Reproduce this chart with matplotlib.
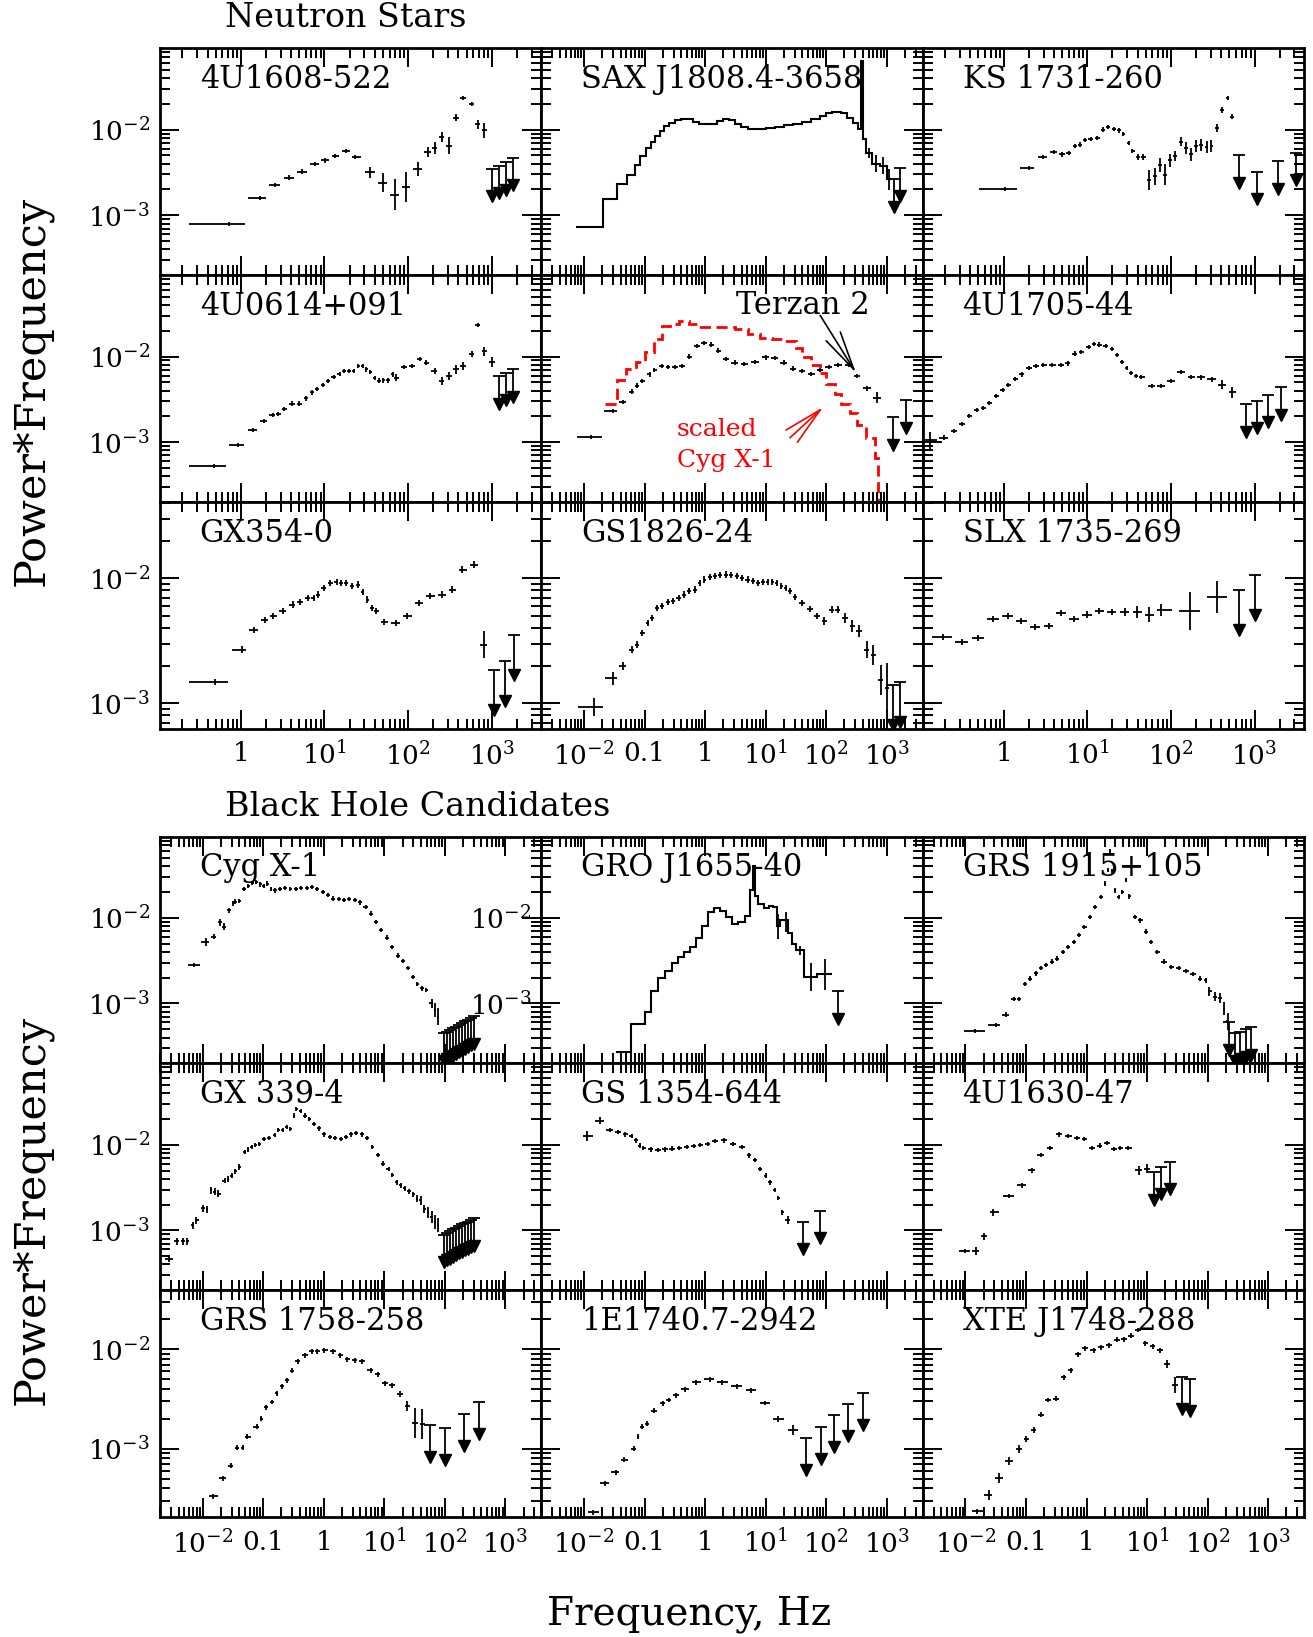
import numpy as np
import matplotlib
matplotlib.use("Agg")
import matplotlib.pyplot as plt
from matplotlib.ticker import FixedLocator, FixedFormatter, NullFormatter

plt.rcParams['font.family'] = ['DejaVu Serif']
plt.rcParams['mathtext.fontset'] = 'dejavuserif'

# ---------------- tick labels ----------------
XTICKS = [0.01, 0.1, 1, 10, 100, 1000]
XTICK_TEXT = ['$10^{-2}$', '0.1', '1', '$10^{1}$', '$10^{2}$', '$10^{3}$']
YTICKS = [1e-3, 1e-2]
YTICK_TEXT = ['$10^{-3}$', '$10^{-2}$']

# ---------------- data: (log10 freq [Hz], log10 power*freq, error [dex]) ----------------
u1608 = [(-0.14,-3.10,0.01),(0.23,-2.80,0.01),(0.41,-2.65,0.01),(0.58,-2.56,0.01),(0.735,-2.49,0.01),
         (0.885,-2.40,0.01),(1.01,-2.36,0.01),(1.13,-2.31,0.01),(1.26,-2.25,0.015),(1.37,-2.32,0.015),
         (1.55,-2.50,0.06),(1.70,-2.62,0.11),(1.84,-2.76,0.18),(1.97,-2.67,0.17),(2.12,-2.46,0.08),
         (2.24,-2.26,0.06),(2.32,-2.21,0.07),(2.40,-2.09,0.06),(2.49,-2.19,0.1),(2.57,-1.86,0.04),
         (2.66,-1.63,0.02),(2.76,-1.70,0.02),(2.83,-1.94,0.05),(2.91,-2.01,0.09)]
u1608_ul = [(3.0,-2.46),(3.09,-2.42),(3.17,-2.38),(3.26,-2.33)]

sax_edges = [-2.13,-1.68,-1.455,-1.29,-1.16,-1.07,-0.98,-0.89,-0.83,-0.75,-0.68,-0.6,-0.5,-0.4,-0.3,
             -0.2,-0.1,0.0,0.1,0.2,0.3,0.4,0.5,0.6,0.7,0.85,1.0,1.15,1.3,1.45,1.6,1.75,1.9,2.0,2.1,
             2.25,2.35,2.45,2.52,2.57,2.6,2.66,2.75,2.88,3.0,3.08]
sax_vals = [-3.14,-2.81,-2.64,-2.53,-2.41,-2.31,-2.21,-2.14,-2.08,-2.02,-1.96,-1.92,-1.89,-1.88,-1.88,
            -1.91,-1.93,-1.94,-1.93,-1.90,-1.88,-1.89,-1.93,-1.97,-1.99,-1.99,-1.98,-1.97,-1.95,-1.93,
            -1.91,-1.88,-1.84,-1.81,-1.79,-1.80,-1.86,-1.92,-1.99,-1.20,-2.11,-2.27,-2.40,-2.42,-2.58]
sax_err = [(2.705,-2.27,0.06),(2.815,-2.40,0.1),(2.94,-2.42,0.1),(3.04,-2.58,0.12)]
sax_ul = [(3.12,-2.58),(3.22,-2.45)]

ks1731 = [(0.013,-2.69,0.01),(0.30,-2.45,0.01),(0.475,-2.32,0.01),(0.605,-2.26,0.01),(0.70,-2.29,0.01),
          (0.78,-2.27,0.01),(0.85,-2.19,0.01),(0.91,-2.175,0.01),(0.97,-2.12,0.01),(1.04,-2.11,0.01),
          (1.12,-2.10,0.01),(1.19,-2.00,0.01),(1.25,-1.97,0.01),(1.32,-1.99,0.01),(1.38,-2.01,0.01),
          (1.43,-2.05,0.015),(1.50,-2.16,0.02),(1.54,-2.25,0.02),(1.61,-2.32,0.03),(1.67,-2.32,0.03),
          (1.74,-2.59,0.12),(1.805,-2.545,0.1),(1.87,-2.41,0.08),(1.93,-2.525,0.12),(1.99,-2.36,0.08),
          (2.05,-2.31,0.06),(2.12,-2.14,0.05),(2.18,-2.21,0.07),(2.24,-2.29,0.08),(2.30,-2.19,0.07),
          (2.36,-2.175,0.07),(2.43,-2.20,0.07),(2.48,-2.19,0.07),(2.55,-1.98,0.05),(2.61,-1.77,0.03),
          (2.68,-1.63,0.02),(2.73,-1.85,0.03)]
ks1731_ul = [(2.81,-2.30),(3.03,-2.49),(3.275,-2.37),(3.5,-2.27)]

u0614 = [(-0.325,-3.28,0.01),(-0.03,-3.035,0.01),(0.15,-2.86,0.01),(0.28,-2.75,0.01),(0.38,-2.68,0.01),
         (0.45,-2.67,0.01),(0.52,-2.61,0.015),(0.61,-2.55,0.01),(0.70,-2.55,0.01),(0.78,-2.49,0.01),
         (0.85,-2.42,0.01),(0.915,-2.38,0.01),(0.98,-2.33,0.01),(1.04,-2.285,0.01),(1.11,-2.24,0.01),
         (1.18,-2.20,0.01),(1.235,-2.17,0.01),(1.29,-2.17,0.01),(1.35,-2.17,0.01),(1.405,-2.11,0.01),
         (1.46,-2.11,0.01),(1.50,-2.15,0.01),(1.55,-2.18,0.015),(1.60,-2.25,0.02),(1.65,-2.285,0.03),
         (1.705,-2.28,0.03),(1.76,-2.28,0.03),(1.815,-2.21,0.03),(1.85,-2.25,0.04),(1.95,-2.12,0.02),
         (2.05,-2.11,0.02),(2.145,-2.03,0.02),(2.21,-2.07,0.02),(2.32,-2.17,0.04),(2.40,-2.285,0.05),
         (2.49,-2.23,0.05),(2.57,-2.15,0.05),(2.66,-2.11,0.05),(2.76,-1.97,0.04),(2.83,-1.63,0.015),
         (2.91,-1.94,0.05),(3.0,-2.06,0.06)]
u0614_ul = [(3.085,-2.23),(3.17,-2.19),(3.26,-2.15)]

terzan2 = [(-1.89,-2.94,0.01),(-1.53,-2.64,0.02),(-1.35,-2.53,0.015),(-1.215,-2.41,0.015),(-1.125,-2.34,0.01),
           (-1.035,-2.29,0.01),(-0.915,-2.21,0.01),(-0.84,-2.16,0.01),(-0.71,-2.11,0.01),(-0.62,-2.12,0.01),
           (-0.50,-2.12,0.01),(-0.38,-2.11,0.01),(-0.26,-2.00,0.01),(-0.14,-1.875,0.01),(-0.015,-1.84,0.01),
           (0.10,-1.86,0.01),(0.22,-1.93,0.01),(0.34,-2.03,0.01),(0.49,-2.07,0.01),(0.64,-2.09,0.01),
           (0.82,-2.06,0.01),(1.0,-2.01,0.01),(1.15,-2.02,0.01),(1.30,-2.07,0.01),(1.45,-2.14,0.01),
           (1.60,-2.17,0.01),(1.75,-2.20,0.01),(1.90,-2.16,0.01),(2.04,-2.12,0.01),(2.19,-2.10,0.01),
           (2.37,-2.10,0.015),(2.50,-2.23,0.02),(2.67,-2.37,0.03),(2.84,-2.48,0.06)]
terzan2_ul = [(3.10,-2.71),(3.31,-2.51)]
cyg_scaled_edges = [-1.66,-1.45,-1.30,-1.15,-1.0,-0.85,-0.72,-0.58,-0.43,-0.26,-0.1,0.1,0.3,0.5,0.7,0.9,
                    1.1,1.3,1.5,1.6,1.75,1.9,2.0,2.15,2.25,2.4,2.5,2.65,2.8,2.86,2.88]
cyg_scaled_vals = [-2.55,-2.27,-2.15,-2.06,-1.95,-1.80,-1.64,-1.62,-1.58,-1.62,-1.66,-1.66,-1.66,-1.68,
                   -1.74,-1.78,-1.80,-1.82,-1.90,-2.01,-2.10,-2.19,-2.32,-2.44,-2.55,-2.66,-2.80,-2.95,
                   -3.18,-3.9]

u1705 = [(-0.885,-2.98,0.1),(-0.71,-2.95,0.03),(-0.59,-2.87,0.02),(-0.50,-2.79,0.02),(-0.41,-2.695,0.015),
         (-0.32,-2.625,0.015),(-0.245,-2.60,0.01),(-0.17,-2.54,0.01),(-0.09,-2.46,0.01),(-0.01,-2.395,0.01),
         (0.055,-2.335,0.01),(0.14,-2.265,0.01),(0.215,-2.21,0.01),(0.30,-2.13,0.01),(0.39,-2.11,0.01),
         (0.475,-2.10,0.01),(0.58,-2.10,0.01),(0.69,-2.10,0.01),(0.765,-2.08,0.01),(0.85,-1.965,0.01),
         (0.93,-1.95,0.01),(1.015,-1.885,0.01),(1.08,-1.85,0.01),(1.145,-1.86,0.01),(1.22,-1.875,0.01),
         (1.295,-1.915,0.01),(1.36,-1.98,0.01),(1.415,-2.06,0.01),(1.47,-2.13,0.01),(1.525,-2.19,0.01),
         (1.585,-2.225,0.01),(1.64,-2.24,0.01),(1.77,-2.345,0.01),(1.88,-2.345,0.01),(2.0,-2.29,0.015),
         (2.12,-2.18,0.02),(2.245,-2.24,0.02),(2.355,-2.245,0.02),(2.485,-2.265,0.03),(2.615,-2.33,0.05),
         (2.735,-2.42,0.06)]
u1705_ul = [(2.9,-2.56),(3.03,-2.52),(3.16,-2.45),(3.31,-2.36)]

gx354 = [(-0.31,-2.83,0.01),(0.01,-2.57,0.01),(0.16,-2.415,0.01),(0.29,-2.335,0.01),(0.39,-2.30,0.01),
         (0.50,-2.26,0.01),(0.62,-2.21,0.01),(0.705,-2.19,0.01),(0.80,-2.16,0.01),(0.87,-2.155,0.01),
         (0.92,-2.13,0.01),(0.99,-2.08,0.01),(1.07,-2.04,0.01),(1.145,-2.03,0.01),(1.195,-2.035,0.01),
         (1.26,-2.04,0.01),(1.325,-2.06,0.01),(1.40,-2.05,0.01),(1.46,-2.11,0.015),(1.51,-2.17,0.015),
         (1.57,-2.235,0.02),(1.615,-2.26,0.02),(1.71,-2.35,0.01),(1.85,-2.36,0.01),(1.99,-2.30,0.015),
         (2.13,-2.20,0.02),(2.265,-2.14,0.02),(2.41,-2.13,0.02),(2.53,-2.09,0.025),(2.65,-1.93,0.02),
         (2.79,-1.89,0.02),(2.905,-2.53,0.11)]
gx354_ul = [(3.03,-2.73),(3.16,-2.665),(3.27,-2.455)]

gs1826 = [(-1.84,-3.03,0.07),(-1.53,-2.80,0.05),(-1.35,-2.70,0.03),(-1.215,-2.57,0.02),(-1.125,-2.53,0.02),
          (-1.035,-2.44,0.015),(-0.945,-2.36,0.01),(-0.885,-2.32,0.01),(-0.80,-2.24,0.01),(-0.71,-2.22,0.01),
          (-0.62,-2.19,0.01),(-0.53,-2.18,0.01),(-0.44,-2.155,0.01),(-0.35,-2.13,0.01),(-0.26,-2.10,0.01),
          (-0.17,-2.09,0.01),(-0.09,-2.04,0.01),(-0.015,-2.01,0.01),(0.08,-1.99,0.01),(0.16,-1.98,0.01),
          (0.25,-1.975,0.01),(0.34,-1.97,0.01),(0.43,-1.975,0.01),(0.52,-1.98,0.01),(0.61,-1.995,0.01),
          (0.70,-2.01,0.01),(0.79,-2.02,0.01),(0.88,-2.035,0.01),(0.96,-2.03,0.01),(1.03,-2.03,0.01),
          (1.11,-2.03,0.01),(1.18,-2.035,0.01),(1.26,-2.06,0.01),(1.33,-2.075,0.01),(1.40,-2.10,0.01),
          (1.48,-2.15,0.01),(1.60,-2.195,0.015),(1.73,-2.245,0.015),(1.85,-2.30,0.02),(1.97,-2.34,0.03),
          (2.09,-2.25,0.03),(2.19,-2.25,0.03),(2.31,-2.32,0.04),(2.43,-2.38,0.05),(2.54,-2.42,0.05),
          (2.67,-2.57,0.07),(2.78,-2.61,0.08),(2.90,-2.81,0.12),(3.0,-2.88,0.2)]
gs1826_ul = [(3.10,-2.85),(3.22,-2.83)]

slx1735 = [(-0.725,-2.47,0.015),(-0.50,-2.51,0.01),(-0.31,-2.48,0.01),(-0.125,-2.325,0.01),(0.05,-2.30,0.01),
           (0.21,-2.34,0.01),(0.38,-2.39,0.01),(0.54,-2.38,0.01),(0.685,-2.28,0.015),(0.845,-2.325,0.015),
           (1.0,-2.29,0.02),(1.14,-2.26,0.02),(1.29,-2.27,0.025),(1.445,-2.27,0.03),(1.60,-2.27,0.045),
           (1.74,-2.29,0.06),(1.88,-2.255,0.05),(2.225,-2.26,0.15),(2.55,-2.15,0.13)]
slx1735_ul = [(2.81,-2.09),(3.0,-1.97)]

cygx1 = [(-2.15,-2.55,0.01),(-1.95,-2.28,0.05),(-1.81,-2.22,0.03),(-1.71,-2.05,0.04),(-1.65,-2.105,0.04),
         (-1.56,-1.91,0.03),(-1.50,-1.83,0.03),(-1.46,-1.81,0.03),(-1.40,-1.805,0.02),(-1.31,-1.66,0.02),
         (-1.25,-1.63,0.015),(-1.18,-1.59,0.015),(-1.12,-1.58,0.015),(-1.05,-1.61,0.01),(-0.99,-1.63,0.01),
         (-0.93,-1.60,0.01),(-0.87,-1.665,0.01),(-0.81,-1.68,0.01),(-0.72,-1.66,0.01),(-0.635,-1.65,0.01),
         (-0.55,-1.665,0.01),(-0.46,-1.66,0.01),(-0.37,-1.65,0.01),(-0.28,-1.65,0.01),(-0.19,-1.64,0.01),
         (-0.105,-1.66,0.01),(-0.02,-1.70,0.01),(0.07,-1.735,0.01),(0.16,-1.775,0.01),(0.25,-1.78,0.01),
         (0.335,-1.795,0.01),(0.42,-1.78,0.01),(0.51,-1.795,0.01),(0.60,-1.82,0.01),(0.69,-1.87,0.01),
         (0.78,-1.95,0.01),(0.865,-2.05,0.01),(0.95,-2.14,0.01),(1.04,-2.23,0.01),(1.13,-2.34,0.01),
         (1.22,-2.44,0.01),(1.31,-2.50,0.01),(1.39,-2.59,0.01),(1.48,-2.69,0.015),(1.54,-2.77,0.02),
         (1.63,-2.825,0.02),(1.69,-2.84,0.02),(1.78,-3.0,0.05),(1.835,-3.08,0.08),(1.89,-3.155,0.1)]
cygx1_ul = [(1.98,-3.35),(2.03,-3.33),(2.08,-3.31),(2.13,-3.29),(2.18,-3.27),(2.23,-3.25),(2.28,-3.23),
            (2.33,-3.21),(2.38,-3.19),(2.43,-3.17),(2.48,-3.15)]

gro1655_edges = [-1.47,-1.23,-1.0,-0.9,-0.78,-0.66,-0.55,-0.45,-0.35,-0.25,-0.15,-0.05,0.05,0.15,0.25,0.35,
                 0.45,0.55,0.65,0.74,0.79,0.83,0.88,0.97,1.05,1.12,1.18,1.24,1.3,1.36,1.43,1.5,1.63,1.85,2.1]
gro1655_vals = [-3.57,-3.24,-3.10,-2.86,-2.70,-2.62,-2.53,-2.46,-2.40,-2.34,-2.24,-2.10,-1.93,-1.89,-1.92,
                -1.99,-2.07,-2.05,-1.98,-1.68,-1.39,-1.74,-1.84,-1.89,-1.86,-1.87,-2.10,-2.03,-2.02,-2.18,
                -2.30,-2.38,-2.69,-2.66]
gro1655_err = [(1.21,-2.10,0.15),(1.33,-2.05,0.12),(1.565,-2.38,0.05),(1.74,-2.69,0.16),(1.975,-2.66,0.18)]
gro1655_ul = [(2.19,-2.86)]

grs1915 = [(-1.85,-3.32,0.02),(-1.50,-3.25,0.02),(-1.335,-3.13,0.02),(-1.20,-2.95,0.02),(-1.11,-2.95,0.02),
           (-1.02,-2.77,0.015),(-0.93,-2.71,0.015),(-0.84,-2.65,0.015),(-0.755,-2.59,0.015),(-0.665,-2.55,0.015),
           (-0.575,-2.51,0.015),(-0.485,-2.475,0.015),(-0.395,-2.40,0.015),(-0.305,-2.34,0.015),(-0.215,-2.28,0.015),
           (-0.125,-2.20,0.01),(-0.035,-2.105,0.01),(0.055,-1.99,0.01),(0.145,-1.87,0.01),(0.235,-1.755,0.01),
           (0.31,-1.60,0.01),(0.355,-1.44,0.01),(0.385,-1.22,0.01),(0.42,-1.45,0.01),(0.47,-1.68,0.01),
           (0.53,-1.755,0.01),(0.59,-1.70,0.01),(0.65,-1.56,0.01),(0.70,-1.75,0.01),(0.80,-1.99,0.01),
           (0.89,-2.03,0.01),(0.98,-2.16,0.01),(1.07,-2.28,0.015),(1.16,-2.40,0.015),(1.28,-2.51,0.015),
           (1.40,-2.57,0.015),(1.52,-2.59,0.015),(1.64,-2.62,0.015),(1.76,-2.66,0.02),(1.88,-2.71,0.02),
           (1.97,-2.73,0.03),(2.03,-2.86,0.05),(2.12,-2.92,0.05),(2.21,-2.94,0.06),(2.27,-3.06,0.08),
           (2.33,-3.21,0.1)]
grs1915_ul = [(2.36,-3.22),(2.45,-3.35),(2.54,-3.33),(2.63,-3.30),(2.71,-3.28)]

gx339 = [(-2.55,-3.33,0.04),(-2.43,-3.13,0.04),(-2.32,-3.13,0.04),(-2.26,-3.13,0.04),(-2.165,-2.94,0.04),
         (-2.11,-2.88,0.04),(-1.99,-2.74,0.04),(-1.93,-2.755,0.04),(-1.86,-2.53,0.04),(-1.80,-2.55,0.04),
         (-1.74,-2.57,0.04),(-1.635,-2.42,0.03),(-1.58,-2.40,0.03),(-1.52,-2.36,0.03),(-1.46,-2.31,0.03),
         (-1.40,-2.26,0.03),(-1.30,-2.085,0.025),(-1.25,-2.055,0.025),(-1.19,-2.03,0.02),(-1.135,-2.0,0.02),
         (-1.065,-1.99,0.02),(-0.99,-1.93,0.02),(-0.90,-1.92,0.02),(-0.81,-1.89,0.02),(-0.75,-1.83,0.015),
         (-0.68,-1.83,0.015),(-0.61,-1.79,0.015),(-0.55,-1.82,0.015),(-0.49,-1.66,0.01),(-0.45,-1.58,0.01),
         (-0.38,-1.61,0.01),(-0.31,-1.66,0.01),(-0.24,-1.70,0.01),(-0.165,-1.755,0.01),(-0.075,-1.81,0.01),
         (0.01,-1.88,0.01),(0.10,-1.91,0.01),(0.19,-1.92,0.01),(0.28,-1.93,0.01),(0.365,-1.91,0.01),
         (0.45,-1.88,0.01),(0.54,-1.86,0.01),(0.63,-1.88,0.01),(0.72,-1.92,0.01),(0.805,-2.03,0.01),
         (0.89,-2.12,0.01),(0.98,-2.22,0.01),(1.07,-2.28,0.01),(1.13,-2.35,0.01),(1.205,-2.44,0.015),
         (1.275,-2.475,0.015),(1.335,-2.51,0.02),(1.405,-2.545,0.02),(1.48,-2.58,0.03),(1.54,-2.63,0.04),
         (1.60,-2.65,0.05),(1.66,-2.75,0.05),(1.72,-2.79,0.06),(1.78,-2.845,0.07),(1.835,-2.90,0.08),
         (1.89,-2.94,0.08)]
gx339_ul = [(1.98,-3.05),(2.03,-3.03),(2.08,-3.01),(2.13,-2.99),(2.18,-2.97),(2.23,-2.95),(2.28,-2.93),
            (2.33,-2.91),(2.38,-2.90),(2.43,-2.88),(2.48,-2.86)]

gs1354 = [(-1.95,-1.90,0.06),(-1.74,-1.72,0.04),(-1.575,-1.83,0.02),(-1.44,-1.85,0.015),(-1.32,-1.88,0.015),
          (-1.215,-1.90,0.01),(-1.14,-1.95,0.01),(-1.08,-2.01,0.01),(-1.02,-2.04,0.01),(-0.90,-2.055,0.01),
          (-0.78,-2.065,0.01),(-0.665,-2.055,0.01),(-0.545,-2.045,0.01),(-0.425,-2.04,0.01),(-0.305,-2.03,0.01),
          (-0.185,-2.015,0.01),(-0.08,-2.0,0.01),(0.04,-1.99,0.01),(0.16,-1.96,0.01),(0.31,-1.95,0.01),
          (0.46,-1.99,0.01),(0.61,-2.03,0.01),(0.73,-2.125,0.01),(0.82,-2.18,0.01),(0.91,-2.28,0.01),
          (1.0,-2.36,0.01),(1.07,-2.44,0.01),(1.15,-2.53,0.01),(1.21,-2.62,0.015),(1.27,-2.79,0.03),
          (1.36,-2.88,0.05)]
gs1354_ul = [(1.615,-2.90),(1.90,-2.77)]

u1630 = [(-2.01,-3.24,0.02),(-1.83,-3.24,0.05),(-1.70,-3.07,0.04),(-1.545,-2.79,0.04),(-1.28,-2.60,0.02),
         (-1.07,-2.475,0.03),(-0.905,-2.30,0.02),(-0.755,-2.12,0.02),(-0.605,-2.04,0.015),(-0.455,-1.88,0.01),
         (-0.305,-1.90,0.01),(-0.155,-1.92,0.01),(-0.035,-1.93,0.01),(0.085,-2.04,0.01),(0.215,-2.01,0.01),
         (0.335,-1.98,0.015),(0.455,-2.05,0.015),(0.56,-2.04,0.02),(0.68,-2.04,0.02),(0.86,-2.30,0.05),
         (0.995,-2.28,0.05)]
u1630_ul = [(1.11,-2.32),(1.23,-2.26),(1.37,-2.20)]

grs1758 = [(-1.83,-3.48,0.02),(-1.66,-3.30,0.02),(-1.53,-3.17,0.02),(-1.43,-2.99,0.015),(-1.34,-2.99,0.015),
           (-1.265,-2.88,0.015),(-1.105,-2.78,0.01),(-1.03,-2.70,0.01),(-0.95,-2.585,0.01),(-0.85,-2.53,0.01),
           (-0.78,-2.44,0.01),(-0.695,-2.37,0.01),(-0.605,-2.31,0.01),(-0.53,-2.215,0.01),(-0.43,-2.12,0.01),
           (-0.31,-2.06,0.01),(-0.195,-2.02,0.01),(-0.105,-2.02,0.01),(0.01,-2.01,0.01),(0.15,-2.02,0.01),
           (0.275,-2.06,0.01),(0.39,-2.10,0.01),(0.51,-2.11,0.01),(0.63,-2.12,0.01),(0.775,-2.21,0.01),
           (0.89,-2.25,0.015),(1.01,-2.34,0.015),(1.13,-2.36,0.02),(1.265,-2.45,0.03),(1.38,-2.57,0.05),
           (1.51,-2.74,0.15),(1.63,-2.755,0.15)]
grs1758_ul = [(1.75,-2.76),(2.01,-2.79),(2.31,-2.65),(2.57,-2.53)]

e1740 = [(-1.86,-3.64,0.02),(-1.66,-3.35,0.02),(-1.48,-3.24,0.02),(-1.335,-3.11,0.02),(-1.17,-3.0,0.015),
         (-1.11,-2.88,0.015),(-1.05,-2.78,0.015),(-0.965,-2.75,0.01),(-0.845,-2.62,0.01),(-0.695,-2.545,0.01),
         (-0.605,-2.51,0.01),(-0.485,-2.46,0.01),(-0.335,-2.40,0.01),(-0.155,-2.33,0.01),(0.075,-2.30,0.01),
         (0.28,-2.33,0.01),(0.52,-2.37,0.01),(0.76,-2.41,0.01),(0.99,-2.54,0.015),(1.21,-2.70,0.03),
         (1.45,-2.815,0.05)]
e1740_ul = [(1.67,-2.89),(1.91,-2.78),(2.13,-2.66),(2.36,-2.55),(2.60,-2.44)]

xte1748 = [(-1.81,-3.63,0.02),(-1.62,-3.47,0.05),(-1.45,-3.30,0.05),(-1.28,-3.12,0.04),(-1.11,-3.0,0.04),
           (-0.995,-2.90,0.03),(-0.875,-2.81,0.03),(-0.755,-2.66,0.02),(-0.635,-2.51,0.02),(-0.50,-2.495,0.02),
           (-0.38,-2.28,0.015),(-0.26,-2.21,0.015),(-0.145,-2.05,0.015),(-0.025,-1.99,0.01),(0.115,-2.01,0.01),
           (0.235,-1.98,0.01),(0.37,-1.96,0.01),(0.50,-1.905,0.01),(0.62,-1.90,0.01),(0.73,-1.865,0.01),
           (0.85,-1.805,0.01),(0.97,-1.94,0.01),(1.09,-1.97,0.015),(1.21,-2.01,0.02),(1.33,-2.15,0.04),
           (1.46,-2.36,0.08)]
xte1748_ul = [(1.57,-2.28),(1.70,-2.30)]

# ---------------- layout / style ----------------
LW = 1.3
MIN_ERR = 0.025      # smallest drawn half-height of a cross, dex
BAR_FRAC = 0.75      # drawn fraction of a bin's half-width
LEFT, COLW, ROWH = 0.1216, 0.2905, 0.1386
TOP_A, TOP_B = 0.9705, 0.489
NARROW, WIDE = (-0.97, 3.59), (-2.71, 3.59)
YSTD, YTOP3, YBOT3 = (-3.70, -1.05), (-3.205, -1.39), (-3.69, -1.405)
MINOR = [k * 10.0 ** n for n in range(-4, 5) for k in range(2, 10)]

fig = plt.figure(figsize=(13.13, 16.37), dpi=100)


def make_ax(top, row, col, xr, yr, xlab, ylab):
    ax = fig.add_axes([LEFT + col * COLW, top - (row + 1) * ROWH, COLW, ROWH])
    ax.set_xscale('log')
    ax.set_yscale('log')
    ax.set_xlim(10 ** xr[0], 10 ** xr[1])
    ax.set_ylim(10 ** yr[0], 10 ** yr[1])
    ax.xaxis.set_major_locator(FixedLocator(XTICKS))
    ax.xaxis.set_minor_locator(FixedLocator(MINOR))
    ax.yaxis.set_major_locator(FixedLocator(YTICKS))
    ax.yaxis.set_minor_locator(FixedLocator(MINOR))
    ax.xaxis.set_major_formatter(FixedFormatter(XTICK_TEXT) if xlab else NullFormatter())
    ax.yaxis.set_major_formatter(FixedFormatter(YTICK_TEXT) if ylab else NullFormatter())
    ax.xaxis.set_minor_formatter(NullFormatter())
    ax.yaxis.set_minor_formatter(NullFormatter())
    ax.tick_params(which='both', direction='in', top=True, right=True, width=1.4,
                   labelsize=19, labelbottom=xlab, labelleft=ylab)
    ax.tick_params(which='major', length=14)
    ax.tick_params(which='minor', length=7)
    ax.tick_params(axis='x', pad=9)
    ax.tick_params(axis='y', pad=7)
    for s in ax.spines.values():
        s.set_linewidth(2.0)
    return ax


def draw_points(ax, pts, first_lo):
    lf = np.array([p[0] for p in pts], float)
    lp = np.array([p[1] for p in pts], float)
    er = np.maximum(np.array([p[2] for p in pts], float), MIN_ERR)
    mid = 0.5 * (lf[1:] + lf[:-1])
    lo = np.concatenate([[first_lo], mid])
    hi = np.concatenate([mid, [lf[-1] + (lf[-1] - mid[-1])]])
    lo[1:] = lf[1:] - BAR_FRAC * (lf[1:] - lo[1:])
    hi[1:] = lf[1:] + BAR_FRAC * (hi[1:] - lf[1:])
    ax.hlines(10 ** lp, 10 ** lo, 10 ** hi, colors='k', lw=LW)
    ax.vlines(10 ** lf, 10 ** (lp - er), 10 ** (lp + er), colors='k', lw=LW)


def draw_errs(ax, pts):
    lf = np.array([p[0] for p in pts], float)
    lp = np.array([p[1] for p in pts], float)
    er = np.array([p[2] for p in pts], float)
    ax.vlines(10 ** lf, 10 ** (lp - er), 10 ** (lp + er), colors='k', lw=LW)


def draw_uls(ax, uls, length=0.35):
    lf = np.array([u[0] for u in uls], float)
    lp = np.array([u[1] for u in uls], float)
    x = 10 ** lf
    ax.vlines(x, 10 ** (lp - length), 10 ** lp, colors='k', lw=LW)
    ax.plot(x, 10 ** lp, ls='none', marker='_', ms=9, mew=LW, color='k')
    ax.plot(x, 10 ** (lp - length + 0.03), ls='none', marker='v', ms=8, color='k')


def draw_stairs(ax, edges, vals, **kw):
    n = min(len(vals), len(edges) - 1)
    ax.stairs(10 ** np.array(vals[:n]), 10 ** np.array(edges[:n + 1]), baseline=None, **kw)


def label(ax, text):
    ax.text(0.105, 0.825, text, transform=ax.transAxes, fontsize=22, ha='left', va='baseline')


# ---- Neutron stars ----
ax = make_ax(TOP_A, 0, 0, NARROW, YSTD, False, True)
draw_points(ax, u1608, -0.62); draw_uls(ax, u1608_ul); label(ax, '4U1608-522')

ax = make_ax(TOP_A, 0, 1, WIDE, YSTD, False, False)
draw_stairs(ax, sax_edges, sax_vals, color='k', lw=1.5)
draw_errs(ax, sax_err); draw_uls(ax, sax_ul); label(ax, 'SAX J1808.4-3658')

ax = make_ax(TOP_A, 0, 2, NARROW, YSTD, False, False)
draw_points(ax, ks1731, -0.29); draw_uls(ax, ks1731_ul); label(ax, 'KS 1731-260')

ax = make_ax(TOP_A, 1, 0, NARROW, YSTD, False, True)
draw_points(ax, u0614, -0.62); draw_uls(ax, u0614_ul); label(ax, '4U0614+091')

ax = make_ax(TOP_A, 1, 1, WIDE, YSTD, False, False)
draw_stairs(ax, cyg_scaled_edges, cyg_scaled_vals, color='red', lw=2.0, linestyle=(0, (4, 2)))
draw_points(ax, terzan2, -2.11); draw_uls(ax, terzan2_ul)
ax.text(0.51, 0.865, 'Terzan 2', transform=ax.transAxes, fontsize=22, ha='left', va='center')
ax.annotate('', xy=(10 ** 2.49, 10 ** -2.19), xytext=(10 ** 1.9, 10 ** -1.52),
            arrowprops=dict(arrowstyle='->,head_length=1.4,head_width=0.3', mutation_scale=20,
                            color='k', lw=1.2, shrinkA=0, shrinkB=0))
ax.text(0.356, 0.318, 'scaled', transform=ax.transAxes, fontsize=18, ha='left', va='center', color='red')
ax.text(0.356, 0.182, 'Cyg X-1', transform=ax.transAxes, fontsize=18, ha='left', va='center', color='red')
ax.annotate('', xy=(10 ** 1.95, 10 ** -2.59), xytext=(10 ** 1.40, 10 ** -2.95),
            arrowprops=dict(arrowstyle='->,head_length=1.4,head_width=0.3', mutation_scale=20,
                            color='red', lw=1.2, shrinkA=0, shrinkB=0))

ax = make_ax(TOP_A, 1, 2, NARROW, YSTD, False, False)
draw_points(ax, u1705, -0.97); draw_uls(ax, u1705_ul); label(ax, '4U1705-44')

ax = make_ax(TOP_A, 2, 0, NARROW, YTOP3, True, True)
draw_points(ax, gx354, -0.62); draw_uls(ax, gx354_ul); label(ax, 'GX354-0')

ax = make_ax(TOP_A, 2, 1, WIDE, YTOP3, True, False)
draw_points(ax, gs1826, -2.1); draw_uls(ax, gs1826_ul); label(ax, 'GS1826-24')

ax = make_ax(TOP_A, 2, 2, NARROW, YTOP3, True, False)
draw_points(ax, slx1735, -0.86); draw_uls(ax, slx1735_ul); label(ax, 'SLX 1735-269')

# ---- Black hole candidates ----
ax = make_ax(TOP_B, 0, 0, WIDE, YSTD, False, True)
draw_points(ax, cygx1, -2.25); draw_uls(ax, cygx1_ul); label(ax, 'Cyg X-1')

ax = make_ax(TOP_B, 0, 1, WIDE, YSTD, False, True)
draw_stairs(ax, gro1655_edges, gro1655_vals, color='k', lw=1.5)
draw_errs(ax, gro1655_err); draw_uls(ax, gro1655_ul); label(ax, 'GRO J1655-40')

ax = make_ax(TOP_B, 0, 2, WIDE, YSTD, False, False)
draw_points(ax, grs1915, -2.02); draw_uls(ax, grs1915_ul); label(ax, 'GRS 1915+105')

ax = make_ax(TOP_B, 1, 0, WIDE, YSTD, False, True)
draw_points(ax, gx339, -2.62); draw_uls(ax, gx339_ul); label(ax, 'GX 339-4')

ax = make_ax(TOP_B, 1, 1, WIDE, YSTD, False, False)
draw_points(ax, gs1354, -2.02); draw_uls(ax, gs1354_ul); label(ax, 'GS 1354-644')

ax = make_ax(TOP_B, 1, 2, WIDE, YSTD, False, False)
draw_points(ax, u1630, -2.1); draw_uls(ax, u1630_ul); label(ax, '4U1630-47')

ax = make_ax(TOP_B, 2, 0, WIDE, YBOT3, True, True)
draw_points(ax, grs1758, -1.9); draw_uls(ax, grs1758_ul); label(ax, 'GRS 1758-258')

ax = make_ax(TOP_B, 2, 1, WIDE, YBOT3, True, False)
draw_points(ax, e1740, -1.93); draw_uls(ax, e1740_ul); label(ax, '1E1740.7-2942')

ax = make_ax(TOP_B, 2, 2, WIDE, YBOT3, True, False)
draw_points(ax, xte1748, -1.9); draw_uls(ax, xte1748_ul); label(ax, 'XTE J1748-288')

# ---- figure texts ----
fig.text(0.171, 0.989, 'Neutron Stars', fontsize=24, ha='left', va='center')
fig.text(0.171, 0.507, 'Black Hole Candidates', fontsize=24, ha='left', va='center')
fig.text(0.024, 0.761, 'Power*Frequency', fontsize=31, rotation=90, ha='center', va='center')
fig.text(0.024, 0.261, 'Power*Frequency', fontsize=31, rotation=90, ha='center', va='center')
fig.text(0.525, 0.014, 'Frequency, Hz', fontsize=28, ha='center', va='center')

fig.savefig('out.png', dpi=100)
